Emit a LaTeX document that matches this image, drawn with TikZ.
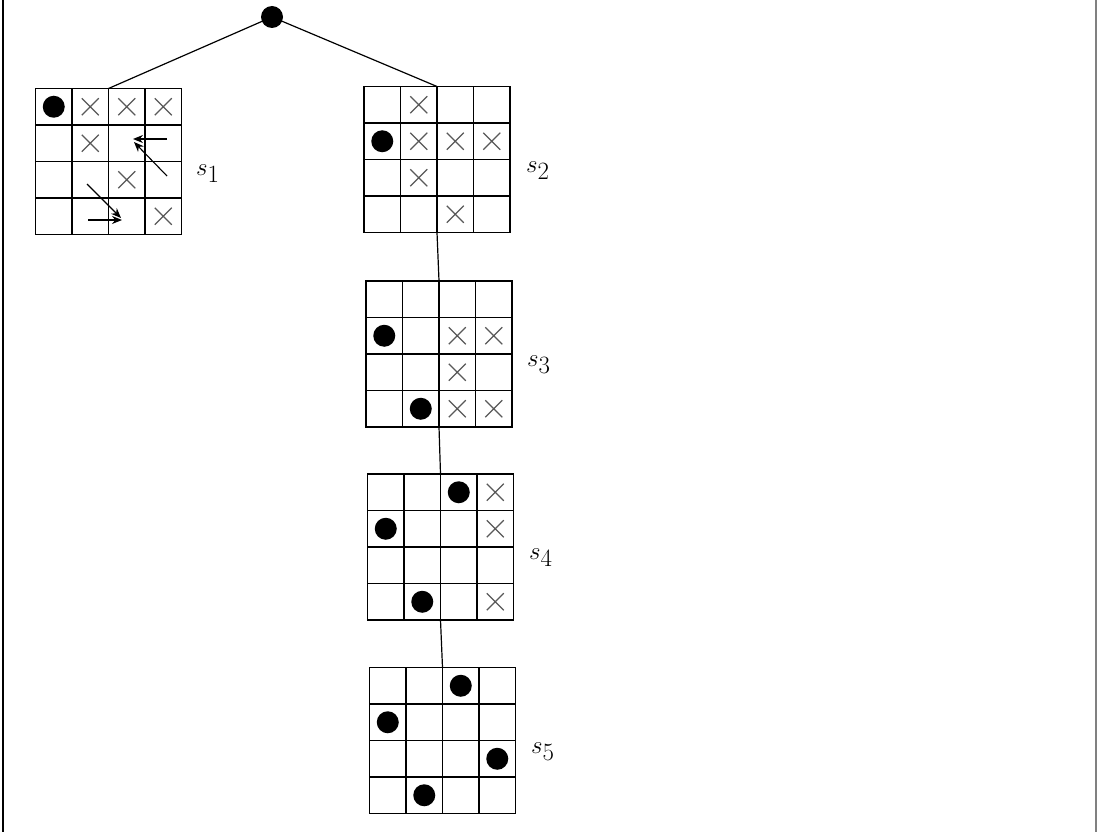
\documentclass[tikz,border=0pt]{standalone}
\usetikzlibrary{calc,arrows.meta}
\tikzset{
  board/.style={draw, line width=1.6pt, minimum width=146pt, minimum height=146pt, inner sep=0pt, outer sep=0pt},
  gl/.style={line width=1.6pt},
  cross/.style={draw=black!65, line width=1.3pt},
  queen/.style={fill=black},
  conn/.style={line width=1.2pt},
  movearrow/.style={line width=1.1pt, -{Stealth[length=10pt,width=8pt]}},
  lab/.style={anchor=base west, inner sep=0pt, font=\fontsize{34}{40}\selectfont},
  rootnode/.style={circle, fill=black, minimum size=22pt, inner sep=0pt, outer sep=0pt}
}
\newcommand\gridlines[1]{%
  \foreach \i in {1,2,3}{%
    \draw[gl] ($(#1.north west)+(\i*36.5,0)$) -- ($(#1.south west)+(\i*36.5,0)$);
    \draw[gl] ($(#1.north west)+(0,\i*36.5)$) -- ($(#1.north east)+(0,\i*36.5)$);
  }}
\newcommand\qn[3]{\fill[queen] ($(#1.north west)+(#3*36.5-18.25,#2*36.5-18.25)$) circle (11pt);}
\newcommand\xx[3]{\draw[cross] ($(#1.north west)+(#3*36.5-18.25,#2*36.5-18.25)$) +(-8.5,-8.5) -- +(8.5,8.5) +(-8.5,8.5) -- +(8.5,-8.5);}
\begin{document}
\begin{tikzpicture}[x=1pt,y=-1pt]
\useasboundingbox (0,0) rectangle (1097,832);
\fill[white] (0,0) rectangle (1097,832);
\draw[line width=2pt] (2.5,0) -- (2.5,832);
\draw[black!50, line width=2pt] (1096,0) -- (1096,832);

\node[rootnode] (root) at (272,17) {};

\node[board] (g1) at (108.5,161.5) {};
\node[board] (g2) at (437,159.5) {};
\node[board] (g3) at (439,354) {};
\node[board] (g4) at (440.5,547) {};
\node[board] (g5) at (442.5,740.5) {};

\gridlines{g1}\gridlines{g2}\gridlines{g3}\gridlines{g4}\gridlines{g5}

\draw[conn] (root) -- (g1.north);
\draw[conn] (root) -- (g2.north);
\draw[conn] (g2.south) -- (g3.north);
\draw[conn] (g3.south) -- (g4.north);
\draw[conn] (g4.south) -- (g5.north);

% s1
\qn{g1}{1}{1}
\xx{g1}{1}{2}\xx{g1}{1}{3}\xx{g1}{1}{4}
\xx{g1}{2}{2}\xx{g1}{3}{3}\xx{g1}{4}{4}
\coordinate (a1s) at (167,139);
\coordinate (a1e) at (133,139);
\coordinate (a2s) at (167,176);
\coordinate (a2e) at (134,142);
\coordinate (a3s) at (87,184);
\coordinate (a3e) at (121,218);
\coordinate (a4s) at (88,220);
\coordinate (a4e) at (122,220);
\draw[movearrow] (a1s) -- (a1e);
\draw[movearrow] (a2s) -- (a2e);
\draw[movearrow] (a3s) -- (a3e);
\draw[movearrow] (a4s) -- (a4e);

% s2
\xx{g2}{1}{2}
\qn{g2}{2}{1}
\xx{g2}{2}{2}\xx{g2}{2}{3}\xx{g2}{2}{4}
\xx{g2}{3}{2}\xx{g2}{4}{3}

% s3
\qn{g3}{2}{1}
\xx{g3}{2}{3}\xx{g3}{2}{4}
\xx{g3}{3}{3}
\qn{g3}{4}{2}
\xx{g3}{4}{3}\xx{g3}{4}{4}

% s4
\qn{g4}{1}{3}\xx{g4}{1}{4}
\qn{g4}{2}{1}\xx{g4}{2}{4}
\qn{g4}{4}{2}\xx{g4}{4}{4}

% s5
\qn{g5}{1}{3}
\qn{g5}{2}{1}
\qn{g5}{3}{4}
\qn{g5}{4}{2}

\node[lab] (l1) at (196,175) {$s_1$};
\node[lab] (l2) at (526,172) {$s_2$};
\node[lab] (l3) at (527,366) {$s_3$};
\node[lab] (l4) at (529,559) {$s_4$};
\node[lab] (l5) at (531,753) {$s_5$};
\end{tikzpicture}
\end{document}
